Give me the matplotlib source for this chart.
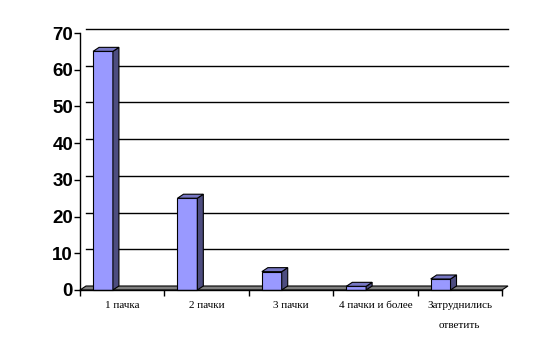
import matplotlib
matplotlib.use("Agg")
import matplotlib.pyplot as plt
from matplotlib.patches import Polygon

# Chart data
categories = ["1 пачка", "2 пачки", "3 пачки", "4 пачки и более", "Затруднились\nответить"]
values = [65, 25, 5, 1, 3]
y_ticks = [0, 10, 20, 30, 40, 50, 60, 70]

FRONT = "#9999FF"
SIDE = "#4D4D80"
TOP = "#7777C4"
FLOOR = "#808080"

W, H = 555, 348
fig = plt.figure(figsize=(W / 100, H / 100), dpi=100)
ax = fig.add_axes([80 / W, 58 / H, 422 / W, 257 / H])
ax.set_xlim(0, len(categories))
ax.set_ylim(0, 70)

# pixel -> data conversion for the fake 3D depth
px_x = len(categories) / 422.0
px_y = 70 / 257.0
dx, dy = 6 * px_x, 4 * px_y

# back wall gridlines
for v in y_ticks[1:]:
    ax.plot([dx, len(categories) + dx], [v + dy, v + dy], color="black", lw=1.0,
            clip_on=False, zorder=1)

# floor
floor = Polygon([(0, 0), (len(categories), 0), (len(categories) + dx, dy), (dx, dy)],
                closed=True, facecolor=FLOOR, edgecolor="black", lw=0.8, clip_on=False, zorder=2)
ax.add_patch(floor)

# bars: front face, side face, top face
bar_l, bar_w = 0.155, 0.235
for i, v in enumerate(values):
    x0 = i + bar_l
    x1 = x0 + bar_w
    ax.bar(x0, v, width=bar_w, align="edge", color=FRONT, edgecolor="black",
           lw=0.8, zorder=3, clip_on=False)
    side = Polygon([(x1, 0), (x1 + dx, dy), (x1 + dx, v + dy), (x1, v)], closed=True,
                   facecolor=SIDE, edgecolor="black", lw=0.8, clip_on=False, zorder=3)
    top = Polygon([(x0, v), (x1, v), (x1 + dx, v + dy), (x0 + dx, v + dy)], closed=True,
                  facecolor=TOP, edgecolor="black", lw=0.8, clip_on=False, zorder=3)
    ax.add_patch(side)
    ax.add_patch(top)

# axes styling
for s in ["top", "right"]:
    ax.spines[s].set_visible(False)
ax.spines["left"].set_linewidth(1.0)
ax.spines["bottom"].set_visible(False)
ax.plot([0, len(categories)], [0, 0], color="black", lw=1.0, clip_on=False, zorder=4)

ax.set_yticks(y_ticks)
ax.set_yticklabels([str(t) for t in y_ticks], family=["Liberation Sans", "DejaVu Sans"],
                   fontweight="bold", fontsize=13.5)
ax.tick_params(axis="y", length=4, width=1.0, pad=1)

ax.set_xticks([i + 0.5 for i in range(len(categories))])
ax.set_xticklabels(categories, family=["Liberation Serif", "DejaVu Serif"], fontsize=8,
                   linespacing=2.5, va="top")
ax.set_xticks(range(len(categories) + 1), minor=True)
ax.tick_params(axis="x", which="major", length=0, pad=8)
ax.tick_params(axis="x", which="minor", length=4, width=1.0)

fig.savefig("out.png", dpi=100, facecolor="white")
